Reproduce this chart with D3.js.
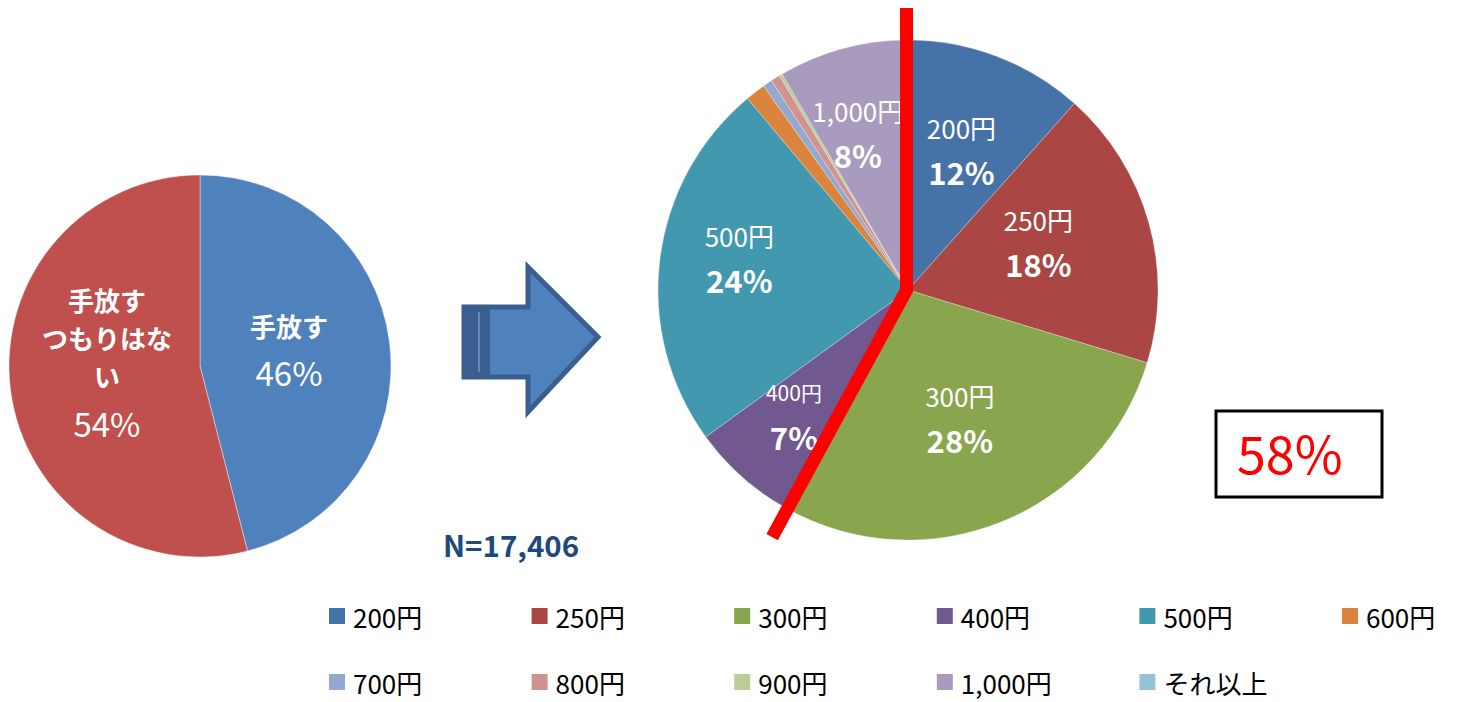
<!DOCTYPE html>
<html>
<head>
<meta charset="utf-8">
<script src="https://cdn.jsdelivr.net/npm/d3@7"></script>
<style>
  body { margin: 0; background: #fff; }
  svg { display: block; }
  text { font-family: "Noto Sans CJK JP", "Noto Sans", sans-serif; }
</style>
</head>
<body>
<svg id="chart" width="1458" height="702"></svg>
<script>
// left pie: intention to give up
const intentCategories = ['手放す', '手放すつもりはない'];
const intentValues = [46, 54];
const intentLabelLines = [['手放す'], ['手放す', 'つもりはな', 'い']];
const intentColors = ['#4F81BD', '#C0504D'];

// right pie: price breakdown
const priceCategories = ['200円', '250円', '300円', '400円', '500円', '600円',
  '700円', '800円', '900円', '1,000円', 'それ以上'];
const priceValues = [11.6, 18.1, 28.3, 7.0, 23.9, 1.3, 0.6, 0.6, 0.2, 8.3, 0.1];
const priceColors = ['#4572A7', '#AA4643', '#89A54E', '#71588F', '#4198AF', '#DB843D',
  '#93A9CF', '#D19392', '#B9CD96', '#A99BBD', '#92C5D6'];

const sampleLabel = 'N=17,406';
const highlightLabel = '58%';
const highlightCount = 3; // 200円, 250円, 300円

// label placement: radius fraction + small nudge, for labelled slices only
const priceLabelRadius = {
  '200円': 0.60, '250円': 0.55, '300円': 0.55,
  '400円': 0.69, '500円': 0.68, '1,000円': 0.67
};
const priceLabelNudge = {
  '250円': [-2, -11], '500円': [0, -12], '400円': [0, -5], '1,000円': [-6, 4]
};
const intentLabelNudge = [[0, -6], [-4, -16]];

const svg = d3.select('#chart');
const pct = v => d3.format('.0f')(v) + '%';

// ---- left pie
const left = { cx: 200, cy: 366, r: 191 };
const leftPie = d3.pie().sort(null).value(d => d)(intentValues);
const leftArc = d3.arc().innerRadius(0).outerRadius(left.r);
const leftG = svg.append('g').attr('transform', `translate(${left.cx},${left.cy})`);

leftG.selectAll('path')
  .data(leftPie)
  .join('path')
  .attr('d', leftArc)
  .attr('fill', (d, i) => intentColors[i])
  .attr('stroke', '#fff')
  .attr('stroke-opacity', 0.5)
  .attr('stroke-width', 0.8);

leftPie.forEach((d, i) => {
  const mid = (d.startAngle + d.endAngle) / 2;
  const lr = left.r * 0.47;
  const x = Math.sin(mid) * lr + intentLabelNudge[i][0];
  const y = -Math.cos(mid) * lr + intentLabelNudge[i][1];
  const lines = intentLabelLines[i];
  const pctGap = i === 0 ? 46 : 47;
  const total = (lines.length - 1) * 38 + pctGap;
  const top = y - total / 2;
  const t = leftG.append('g').attr('fill', '#fff').attr('text-anchor', 'middle');
  lines.forEach((s, j) => {
    t.append('text')
      .attr('x', x).attr('y', top + j * 38)
      .attr('dominant-baseline', 'central')
      .attr('font-size', 26).attr('font-weight', 700)
      .text(s);
  });
  t.append('text')
    .attr('x', x).attr('y', top + (lines.length - 1) * 38 + pctGap)
    .attr('dominant-baseline', 'central')
    .attr('font-size', 33)
    .text(pct(d.data));
});

// ---- arrow (decoration)
const arrowG = svg.append('g');
arrowG.append('path')
  .attr('d', 'M464,307 L528,307 L528,267 L598,337 L528,412 L528,377 L464,377 Z')
  .attr('fill', '#4F81BD')
  .attr('stroke', '#3A5F8E')
  .attr('stroke-width', 5)
  .attr('stroke-linejoin', 'miter');
arrowG.append('rect')
  .attr('x', 464).attr('y', 307).attr('width', 26).attr('height', 70)
  .attr('fill', '#3A5F8E');
arrowG.append('line')
  .attr('x1', 479).attr('x2', 479).attr('y1', 312).attr('y2', 372)
  .attr('stroke', '#6F97CB').attr('stroke-width', 1.5);

// ---- sample size
svg.append('text')
  .attr('x', 443).attr('y', 557)
  .attr('font-family', '"Liberation Sans", Arial, sans-serif')
  .attr('font-size', 29.5).attr('font-weight', 700)
  .attr('fill', '#1F497D')
  .text(sampleLabel);

// ---- right pie
const right = { cx: 908, cy: 290, r: 250 };
const rightPie = d3.pie().sort(null).value(d => d)(priceValues);
const rightArc = d3.arc().innerRadius(0).outerRadius(right.r);
const rightG = svg.append('g').attr('transform', `translate(${right.cx},${right.cy})`);

rightG.selectAll('path')
  .data(rightPie)
  .join('path')
  .attr('d', rightArc)
  .attr('fill', (d, i) => priceColors[i])
  .attr('stroke', '#fff')
  .attr('stroke-opacity', 0.45)
  .attr('stroke-width', 0.6);

rightPie.forEach((d, i) => {
  const name = priceCategories[i];
  const frac = priceLabelRadius[name];
  if (frac === undefined) return;
  const nudge = priceLabelNudge[name] || [0, 0];
  const mid = (d.startAngle + d.endAngle) / 2;
  const x = Math.sin(mid) * right.r * frac + nudge[0];
  const y = -Math.cos(mid) * right.r * frac + nudge[1];
  const g = rightG.append('g').attr('fill', '#fff').attr('text-anchor', 'middle');
  g.append('text')
    .attr('x', x).attr('y', y - 22)
    .attr('dominant-baseline', 'central')
    .attr('font-size', name === '400円' ? 21 : 26)
    .text(name);
  g.append('text')
    .attr('x', x).attr('y', y + 22)
    .attr('dominant-baseline', 'central')
    .attr('font-size', 31).attr('font-weight', 700)
    .text(pct(d.data));
});

// red line marking 200円〜300円
const splitAngle = rightPie[highlightCount - 1].endAngle;
const lineLen = 282;
rightG.append('path')
  .attr('d', d3.line()([
    [-1.5, -lineLen],
    [-1.5, 0],
    [Math.sin(splitAngle) * lineLen, -Math.cos(splitAngle) * lineLen]
  ]))
  .attr('fill', 'none')
  .attr('stroke', '#FF0000')
  .attr('stroke-width', 13)
  .attr('stroke-linejoin', 'miter');

// ---- 58% box
svg.append('rect')
  .attr('x', 1216).attr('y', 411).attr('width', 166).attr('height', 86)
  .attr('fill', '#fff').attr('stroke', '#000').attr('stroke-width', 3);
svg.append('text')
  .attr('x', 1237).attr('y', 474)
  .attr('font-family', '"Liberation Sans", Arial, sans-serif')
  .attr('font-size', 52)
  .attr('fill', '#FF0000')
  .text(highlightLabel);

// ---- legend
const legendX = d3.scaleLinear().domain([0, 5]).range([329, 1342]);
const legendY = d3.scaleLinear().domain([0, 1]).range([608, 674]);
const legend = svg.append('g')
  .selectAll('g')
  .data(priceCategories)
  .join('g')
  .attr('transform', (d, i) => `translate(${legendX(i % 6)},${legendY(Math.floor(i / 6))})`);
legend.append('rect')
  .attr('width', 16).attr('height', 16)
  .attr('fill', (d, i) => priceColors[i]);
legend.append('text')
  .attr('x', 24).attr('y', 8)
  .attr('dominant-baseline', 'central')
  .attr('font-size', 26)
  .attr('fill', '#000')
  .text(d => d);
</script>
</body>
</html>
